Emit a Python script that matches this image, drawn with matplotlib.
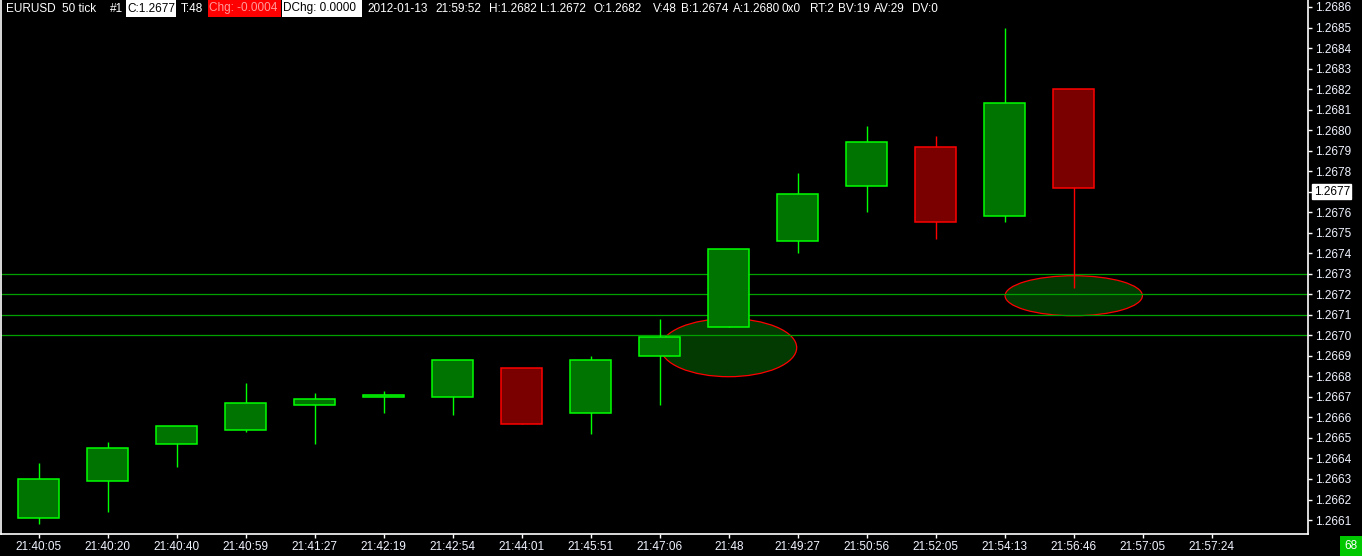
import matplotlib
matplotlib.use("Agg")
import matplotlib.pyplot as plt
from matplotlib.patches import Ellipse, Rectangle

plt.rcParams["font.family"] = ["Liberation Sans", "DejaVu Sans"]

# ---------------- data ----------------
time_labels = ["21:40:05", "21:40:20", "21:40:40", "21:40:59", "21:41:27", "21:42:19",
               "21:42:54", "21:44:01", "21:45:51", "21:47:06", "21:48", "21:49:27",
               "21:50:56", "21:52:05", "21:54:13", "21:56:46", "21:57:05", "21:57:24"]
opens  = [1.26611, 1.26629, 1.26647, 1.26654, 1.26666, 1.26670, 1.26670, 1.26684,
          1.26662, 1.26690, 1.26704, 1.26746, 1.26773, 1.26792, 1.26758, 1.26820]
highs  = [1.26638, 1.26648, 1.26656, 1.26677, 1.26672, 1.26673, 1.26688, 1.26684,
          1.26690, 1.26708, 1.26742, 1.26779, 1.26802, 1.26797, 1.26850, 1.26820]
lows   = [1.26608, 1.26614, 1.26636, 1.26653, 1.26647, 1.26662, 1.26661, 1.26657,
          1.26652, 1.26666, 1.26704, 1.26740, 1.26760, 1.26747, 1.26755, 1.26723]
closes = [1.26630, 1.26645, 1.26656, 1.26667, 1.26669, 1.26671, 1.26688, 1.26657,
          1.26688, 1.26699, 1.26742, 1.26769, 1.26794, 1.26755, 1.26813, 1.26772]
levels = [1.2673, 1.2672, 1.2671, 1.2670]
zone_x = [10, 15]
zone_price = [1.266940, 1.267193]
zone_w = [1.97, 1.99]
zone_h = [0.000283, 0.000195]
y_ticks = [round(1.2661 + 0.0001 * i, 4) for i in range(26)]
last_price = 1.2677
bar_count_label = "68"

# ---------------- figure ----------------
W, H = 1362, 556
FS = 8.5
fig = plt.figure(figsize=(W / 100, H / 100), dpi=100, facecolor="black")
ax = fig.add_axes([1 / W, (H - 534) / H, (1308 - 1) / W, 534 / H])
ax.set_facecolor("black")

GREEN_FILL, GREEN_EDGE = "#007400", "#00ff00"
RED_FILL, RED_EDGE = "#7a0000", "#ff0000"

# zones (ellipses)
for x, p, w, h in zip(zone_x, zone_price, zone_w, zone_h):
    ax.add_patch(Ellipse((x, p), w, h, facecolor="#033a02", edgecolor="#ff0000",
                         linewidth=0.9, zorder=1))

# level lines
for lv in levels:
    ax.axhline(lv, color="#00a000", linewidth=0.9, zorder=2)

# candles
xs = list(range(len(opens)))
for x, o, hi, lo, c in zip(xs, opens, highs, lows, closes):
    up = c >= o
    fill = GREEN_FILL if up else RED_FILL
    edge = GREEN_EDGE if up else RED_EDGE
    ax.vlines(x, lo, hi, color=edge, linewidth=1.0, zorder=3)
    ax.bar(x, abs(c - o), bottom=min(o, c), width=0.6, color=fill,
           edgecolor=edge, linewidth=1.1, zorder=4)

# axes
ax.set_xlim(-0.546, 18.395)
ax.set_ylim(1.266032, 1.268634)
ax.yaxis.tick_right()
ax.set_yticks(y_ticks)
ax.set_yticklabels([f"{v:.4f}" for v in y_ticks])
ax.set_xticks(range(len(time_labels)))
ax.set_xticklabels(time_labels)
ax.tick_params(axis="both", direction="out", length=3, width=1, color="white",
               labelcolor="#f0f4ff", labelsize=FS)
ax.tick_params(axis="y", pad=2)
ax.tick_params(axis="x", pad=2)
for s in ["right", "bottom", "left"]:
    ax.spines[s].set_color("white")
    ax.spines[s].set_linewidth(1.2)
ax.spines["top"].set_visible(False)

# current price tag on the right axis
ax.annotate(f"{last_price:.4f}", xy=(1.0, last_price), xycoords=("axes fraction", "data"),
            xytext=(4, 0), textcoords="offset points", va="center", ha="left",
            fontsize=FS, color="black",
            bbox=dict(boxstyle="square,pad=0.12", facecolor="white", edgecolor="white"))

# header
def px(x, y):
    return x / W, 1 - y / H

def box(x0, x1, y0, y1, color):
    fig.patches.append(Rectangle((x0 / W, 1 - y1 / H), (x1 - x0) / W, (y1 - y0) / H,
                                 transform=fig.transFigure, facecolor=color,
                                 edgecolor="none", zorder=5))

box(126, 176, 0, 17, "white")
box(208, 281, 0, 17, "#ff0000")
box(282, 362, 0, 17, "white")

header = [("EURUSD", 6, "white"), ("50 tick", 62, "white"), ("#1", 110, "white"),
          ("C:1.2677", 127, "black"), ("T:48", 181, "white"),
          ("Chg: -0.0004", 209, "#ff9a9a"), ("DChg: 0.0000", 283, "black"),
          ("2012-01-13", 367, "white"), ("21:59:52", 435, "white"),
          ("H:1.2682", 489, "white"), ("L:1.2672", 540, "white"),
          ("O:1.2682", 594, "white"), ("V:48", 653, "white"),
          ("B:1.2674", 681, "white"), ("A:1.2680", 733, "white"),
          ("0x0", 782, "white"), ("RT:2", 810, "white"), ("BV:19", 838, "white"),
          ("AV:29", 874, "white"), ("DV:0", 912, "white")]
for t, x, col in header:
    fig.text(*px(x, 8.5), t, color=col, fontsize=FS, va="center", ha="left", zorder=6)

# bar counter box bottom-right
box(1340, 1362, 536, 556, "#00c800")
fig.text(*px(1351, 546), bar_count_label, color="white", fontsize=FS,
         va="center", ha="center", zorder=6)

fig.savefig("out.png", dpi=100, facecolor="black")
